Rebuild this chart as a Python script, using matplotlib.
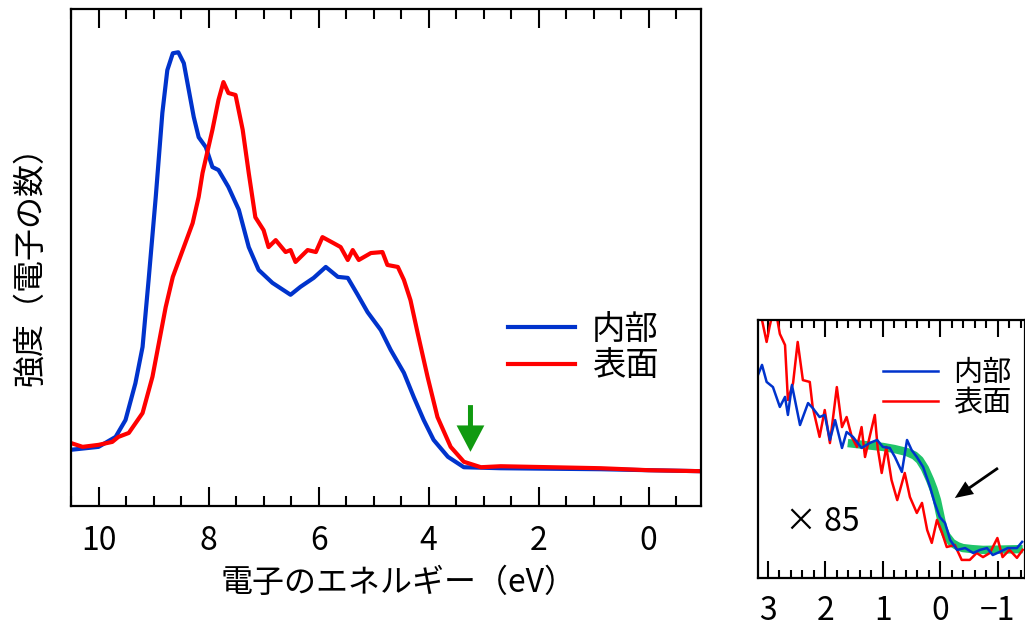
import numpy as np
import matplotlib
matplotlib.use('Agg')
import matplotlib.pyplot as plt
from matplotlib.ticker import MultipleLocator

plt.rcParams['font.family'] = ['Noto Sans CJK JP', 'DejaVu Sans']

# main spectrum: energy (eV) and intensity (arb. units)
e_bulk = [10.51, 10.00, 9.69, 9.51, 9.33, 9.20, 9.09, 8.96, 8.84, 8.75, 8.65, 8.55,
          8.45, 8.36, 8.27, 8.18, 8.05, 7.93, 7.82, 7.64, 7.45, 7.27, 7.09, 6.84,
          6.51, 6.33, 6.09, 5.87, 5.65, 5.47, 5.29, 5.11, 4.87, 4.69, 4.45, 4.27,
          4.09, 3.91, 3.65, 3.36, 2.69, 0.87, 0.00, -0.96]
i_bulk = [11.3, 11.9, 13.9, 17.3, 24.7, 32.0, 45.5, 62.2, 79.1, 87.7, 91.1, 91.3,
          89.1, 83.7, 78.3, 74.2, 72.2, 68.2, 67.6, 64.2, 59.6, 52.1, 47.5, 44.9,
          42.5, 44.1, 45.9, 48.1, 46.1, 45.9, 42.5, 39.0, 35.4, 31.4, 26.8, 21.9,
          17.3, 13.3, 9.9, 7.8, 7.6, 7.4, 7.2, 7.0]

e_surf = [10.51, 10.29, 10.00, 9.75, 9.64, 9.45, 9.20, 9.02, 8.78, 8.65, 8.47, 8.29,
          8.18, 8.11, 7.93, 7.82, 7.73, 7.64, 7.51, 7.38, 7.27, 7.15, 7.00, 6.91,
          6.78, 6.60, 6.51, 6.42, 6.20, 6.05, 5.93, 5.73, 5.60, 5.47, 5.38, 5.27,
          5.05, 4.84, 4.75, 4.56, 4.45, 4.33, 4.20, 4.02, 3.84, 3.60, 3.36, 3.05,
          2.69, 0.87, 0.00, -0.96]
i_surf = [12.7, 11.9, 12.3, 12.9, 13.9, 14.7, 18.7, 26.0, 40.0, 46.1, 51.5, 56.9,
          62.2, 67.0, 75.7, 81.7, 85.3, 83.1, 82.7, 75.7, 67.0, 58.1, 55.5, 52.1,
          53.5, 51.1, 51.5, 49.1, 51.5, 51.1, 54.1, 52.9, 52.1, 49.5, 51.5, 49.5,
          50.9, 51.1, 48.5, 48.1, 45.5, 41.4, 34.8, 26.0, 17.9, 11.9, 8.9, 7.8,
          8.0, 7.6, 7.2, 7.0]

# inset (x85) near the Fermi edge
e_bulk_z = [3.17, 3.10, 3.02, 2.91, 2.79, 2.70, 2.65, 2.58, 2.44, 2.30, 2.22, 2.10,
            2.01, 1.92, 1.83, 1.71, 1.63, 1.52, 1.37, 1.23, 1.10, 1.00, 0.88, 0.79,
            0.67, 0.58, 0.50, 0.41, 0.30, 0.18, 0.10, 0.01, -0.08, -0.17, -0.29,
            -0.43, -0.57, -0.69, -0.81, -0.91, -1.03, -1.17, -1.33, -1.42]
i_bulk_z = [78.7, 82.6, 76.0, 74.0, 66.3, 70.2, 63.2, 74.8, 59.3, 67.8, 65.9, 62.4,
            63.2, 53.5, 61.2, 50.4, 56.6, 54.7, 50.4, 52.3, 53.5, 50.8, 50.4, 46.9,
            41.1, 53.5, 49.6, 46.9, 43.0, 35.3, 29.1, 23.6, 21.3, 14.7, 10.9,
            11.6, 9.7, 10.9, 11.6, 8.9, 10.1, 11.6, 11.6, 14.0]

e_surf_z = [3.17, 3.10, 3.02, 2.97, 2.88, 2.79, 2.70, 2.65, 2.56, 2.48, 2.39, 2.27,
            2.22, 2.10, 2.01, 1.92, 1.80, 1.71, 1.63, 1.54, 1.45, 1.37, 1.31, 1.23,
            1.14, 1.09, 1.02, 0.94, 0.85, 0.75, 0.62, 0.53, 0.41, 0.32, 0.23, 0.15,
            0.06, -0.03, -0.11, -0.25, -0.37, -0.51, -0.63, -0.74, -0.86, -0.99,
            -1.08, -1.20, -1.33, -1.43]
i_surf_z = [104.0, 100.0, 91.5, 97.3, 106.0, 94.6, 90.3, 69.0, 75.6, 91.5, 76.7, 76.0,
            66.3, 54.7, 65.1, 52.3, 74.0, 58.5, 62.4, 54.7, 50.8, 58.5, 46.9, 54.7,
            63.2, 50.4, 40.7, 50.8, 38.0, 30.2, 40.7, 31.4, 25.2, 29.1, 18.6, 13.6,
            22.5, 17.4, 12.0, 12.8, 7.0, 7.0, 9.7, 8.1, 9.7, 15.5,
            8.1, 10.9, 7.8, 10.9]

# Fermi-edge fit
e_fit = [1.61, 1.30, 1.00, 0.80, 0.58, 0.45, 0.36, 0.27, 0.18, 0.12, 0.06, 0.01,
         -0.04, -0.10, -0.20, -0.30, -0.39, -0.55, -0.74, -1.00, -1.43]
i_fit = [52.3, 51.5, 50.8, 50.0, 48.8, 47.5, 45.7, 42.5, 38.0, 34.5, 30.2, 25.0,
         19.8, 16.5, 13.6, 12.3, 11.6, 11.2, 10.9, 11.0, 11.2]

BLUE = '#0033cc'
RED = '#ff0000'

fig = plt.figure(figsize=(10.25, 6.26), dpi=100)

# ---- main panel
ax = fig.add_axes([0.0693, 0.1917, 0.6146, 0.7939])
ax.plot(e_bulk, i_bulk, color=BLUE, lw=3, label='内部')
ax.plot(e_surf, i_surf, color=RED, lw=3, label='表面')
ax.set_xlim(10.5, -0.95)
ax.set_ylim(0, 100)
ax.set_yticks([])
ax.xaxis.set_major_locator(MultipleLocator(2))
ax.xaxis.set_minor_locator(MultipleLocator(0.5))
ax.tick_params(axis='x', which='both', direction='in', top=True, bottom=True,
               width=1.5, labelsize=23, pad=14)
ax.tick_params(axis='x', which='major', length=13.5)
ax.tick_params(axis='x', which='minor', length=7)
for s in ax.spines.values():
    s.set_linewidth(1.6)
ax.set_xlabel('電子のエネルギー（eV）', fontsize=23)
ax.xaxis.set_label_coords(0.52, -0.122)
ax.set_ylabel('強度（電子の数）', fontsize=23)
ax.yaxis.set_label_coords(-0.04, 0.5)

ax.legend(loc='center left', bbox_to_anchor=(0.694, 0.319), frameon=False,
          fontsize=24, handlelength=2.0, handletextpad=0.5, labelspacing=0.05,
          borderaxespad=0, borderpad=0)

ax.annotate('', xy=(3.24, 10.9), xytext=(3.24, 20.3),
            arrowprops=dict(facecolor='#109a10', edgecolor='none', width=3.6,
                            headwidth=20, headlength=19, shrink=0))

# ---- inset panel (x85)
ax2 = fig.add_axes([0.7395, 0.0767, 0.2605, 0.4121])
ax2.plot(e_fit, i_fit, color='#20c46a', lw=6, solid_capstyle='butt')
ax2.plot(e_surf_z, i_surf_z, color=RED, lw=1.8, label='表面')
ax2.plot(e_bulk_z, i_bulk_z, color=BLUE, lw=1.8, label='内部')
ax2.set_xlim(3.17, -1.47)
ax2.set_ylim(0, 100)
ax2.set_yticks([])
ax2.xaxis.set_major_locator(MultipleLocator(1))
ax2.xaxis.set_minor_locator(MultipleLocator(0.2))
ax2.tick_params(axis='x', which='both', direction='in', top=True, bottom=True,
                width=1.5, labelsize=23, pad=12)
ax2.tick_params(axis='x', which='major', length=12)
ax2.tick_params(axis='x', which='minor', length=6)
ax2.xaxis.set_major_formatter(plt.FuncFormatter(lambda v, p: f'{v:.0f}'.replace('-', '−')))
for s in ax2.spines.values():
    s.set_linewidth(1.6)

h, l = ax2.get_legend_handles_labels()
ax2.legend(h[::-1], l[::-1], loc='center left', bbox_to_anchor=(0.468, 0.735),
           frameon=False, fontsize=21, handlelength=1.9, handletextpad=0.5,
           labelspacing=0.0, borderaxespad=0, borderpad=0)

ax2.text(2.70, 21.7, '× 85', fontsize=23, ha='left', va='center')
ax2.annotate('', xy=(-0.25, 31.0), xytext=(-1.0, 42.6),
             arrowprops=dict(facecolor='black', edgecolor='none', width=2,
                             headwidth=11, headlength=13, shrink=0))

fig.savefig('out.png', dpi=100)
